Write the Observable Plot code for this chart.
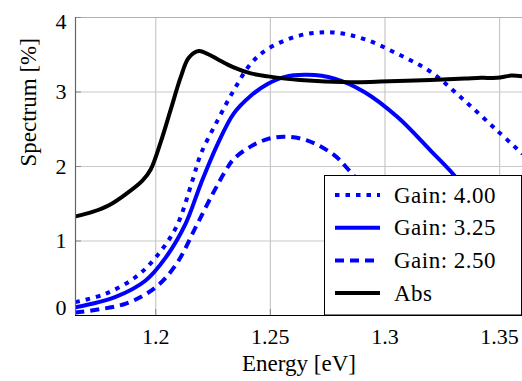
<!DOCTYPE html>
<html>
<head>
<meta charset="utf-8">
<script src="https://cdn.jsdelivr.net/npm/d3@7"></script>
<script src="https://cdn.jsdelivr.net/npm/@observablehq/plot@0.6"></script>
<style>
  html, body { margin: 0; padding: 0; background: #fff; }
  #chart svg text { font-family: "Liberation Serif", serif !important; }
  #chart svg text.wide, #chart svg g.legend text { letter-spacing: 0.5px; }
</style>
</head>
<body>
<div id="chart"></div>
<script>
// ---- data ----
const xTicks = [1.2, 1.25, 1.3, 1.35];
const yTicks = [0, 1, 2, 3, 4];
const xDomain = [1.165, 1.36];
const yDomain = [0, 4];

const absE = [1.165,1.1724,1.1796,1.187,1.1942,1.1978,1.2022,1.2066,1.2109,1.2144,1.2188,1.2227,1.227,1.234,1.2415,1.249,1.263,1.285,1.298,1.32,1.335,1.342,1.349,1.355,1.36];
const absV = [1.33,1.39,1.48,1.63,1.81,1.96,2.33,2.77,3.20,3.46,3.55,3.51,3.44,3.33,3.25,3.21,3.16,3.13,3.14,3.16,3.18,3.19,3.19,3.22,3.21];

const g400E = [1.165,1.178,1.191,1.2,1.209,1.216,1.2197,1.227,1.234,1.2415,1.249,1.263,1.277,1.291,1.3056,1.32,1.3345,1.349,1.36];
const g400V = [0.18,0.29,0.51,0.78,1.19,1.81,2.17,2.62,3.02,3.38,3.58,3.76,3.80,3.71,3.51,3.27,2.89,2.48,2.17];

const g325E = [1.165,1.1825,1.1956,1.2044,1.213,1.2197,1.227,1.234,1.2415,1.249,1.256,1.266,1.278,1.291,1.3056,1.32,1.33,1.34,1.35,1.36];
const g325V = [0.11,0.25,0.47,0.78,1.23,1.77,2.30,2.71,2.95,3.11,3.20,3.23,3.18,3.00,2.66,2.21,1.89,1.50,1.05,0.55];

const g250E = [1.165,1.187,1.2,1.209,1.2175,1.2248,1.2306,1.234,1.2415,1.249,1.256,1.266,1.278,1.2837,1.29,1.30,1.31,1.32,1.33];
const g250V = [0.04,0.16,0.38,0.69,1.19,1.63,1.95,2.10,2.27,2.37,2.40,2.35,2.15,1.97,1.75,1.40,1.00,0.60,0.20];

const seriesNames = ["Gain: 4.00", "Gain: 3.25", "Gain: 2.50", "Abs"];

const toRows = (E, V) => E.map((e, i) => ({e, v: V[i]}));
const absRows = toRows(absE, absV);
const g400Rows = toRows(g400E, g400V);
const g325Rows = toRows(g325E, g325V);
const g250Rows = toRows(g250E, g250V);

const FONT = "Liberation Serif";
const FS = 22;
const FSL = 23;
const LW = 4;
const styles = [
  {stroke: "#0000ff", dash: "4.5,6"},
  {stroke: "#0000ff", dash: null},
  {stroke: "#0000ff", dash: "9,6"},
  {stroke: "#000000", dash: null}
];

const lineOpts = (s) => ({
  x: "e", y: "v", stroke: s.stroke, strokeWidth: LW,
  strokeDasharray: s.dash, strokeLinecap: "butt", curve: "catmull-rom", clip: true
});

const fmt = d => String(d);
const txt = {fontFamily: FONT, fontSize: FS};
const lbl = {fontFamily: FONT, fontSize: FSL, className: "wide"};

const plot = Plot.plot({
  width: 522,
  height: 381,
  marginTop: 17,
  marginRight: 0,
  marginBottom: 66,
  marginLeft: 75,
  style: {fontFamily: FONT, fontSize: FS + "px", background: "#fff", color: "#000"},
  x: {domain: xDomain, label: null},
  y: {domain: yDomain, label: null},
  marks: [
    Plot.gridX(xTicks, {stroke: "#c8c8c8", strokeOpacity: 1, strokeWidth: 1.2}),
    Plot.gridY(yTicks, {stroke: "#c8c8c8", strokeOpacity: 1, strokeWidth: 1.2}),
    Plot.ruleY([yDomain[1]], {stroke: "#b0b0b0", strokeWidth: 1.2}),
    Plot.axisY(yTicks, {tickSize: 6, dx: 6, text: null, label: null, stroke: "#888"}),
    Plot.axisX(xTicks, {tickSize: 6, dy: -6, text: null, label: null, stroke: "#888"}),
    Plot.axisY(yTicks.slice(1, -1), {tickSize: 0, tickPadding: 9, label: null, tickFormat: fmt, ...txt}),
    Plot.axisY([yTicks[0]], {tickSize: 0, tickPadding: 9, label: null, tickFormat: fmt, dy: -8, ...txt}),
    Plot.axisY([yTicks[yTicks.length - 1]], {tickSize: 0, tickPadding: 9, label: null, tickFormat: fmt, dy: 4, ...txt}),
    Plot.axisX(xTicks, {tickSize: 0, tickPadding: 13, label: null, tickFormat: fmt, ...txt}),
    Plot.line(g400Rows, lineOpts(styles[0])),
    Plot.line(g325Rows, lineOpts(styles[1])),
    Plot.line(g250Rows, lineOpts(styles[2])),
    Plot.line(absRows, lineOpts(styles[3])),
    Plot.ruleX([xDomain[0]], {stroke: "#666", strokeWidth: 1.2}),
    Plot.ruleY([yDomain[0]], {stroke: "#000", strokeWidth: 1.2}),
    Plot.text(["Spectrum [%]"], {frameAnchor: "left", dx: -47, rotate: -90, ...lbl}),
    Plot.text(["Energy [eV]"], {frameAnchor: "bottom", dy: 55, ...lbl})
  ]
});

// legend (drawn in the same SVG)
const svg = d3.select(plot);
const lg = svg.append("g").attr("class", "legend")
  .attr("font-family", FONT).attr("font-size", FSL).attr("text-anchor", "start");
lg.append("rect")
  .attr("x", 324.5).attr("y", 175.5).attr("width", 197).attr("height", 139.5)
  .attr("fill", "#fff").attr("stroke", "#000").attr("stroke-width", 1);
seriesNames.forEach((name, i) => {
  const cy = 195 + i * 32.7;
  const s = styles[i];
  lg.append("line")
    .attr("x1", 335).attr("x2", 380).attr("y1", cy).attr("y2", cy)
    .attr("stroke", s.stroke).attr("stroke-width", LW)
    .attr("stroke-dasharray", s.dash).attr("stroke-linecap", "butt");
  lg.append("text").attr("x", 394).attr("y", cy + 7.5)
    .attr("text-anchor", "start").attr("fill", "#000").text(name);
});

document.getElementById("chart").appendChild(plot);
</script>
</body>
</html>
